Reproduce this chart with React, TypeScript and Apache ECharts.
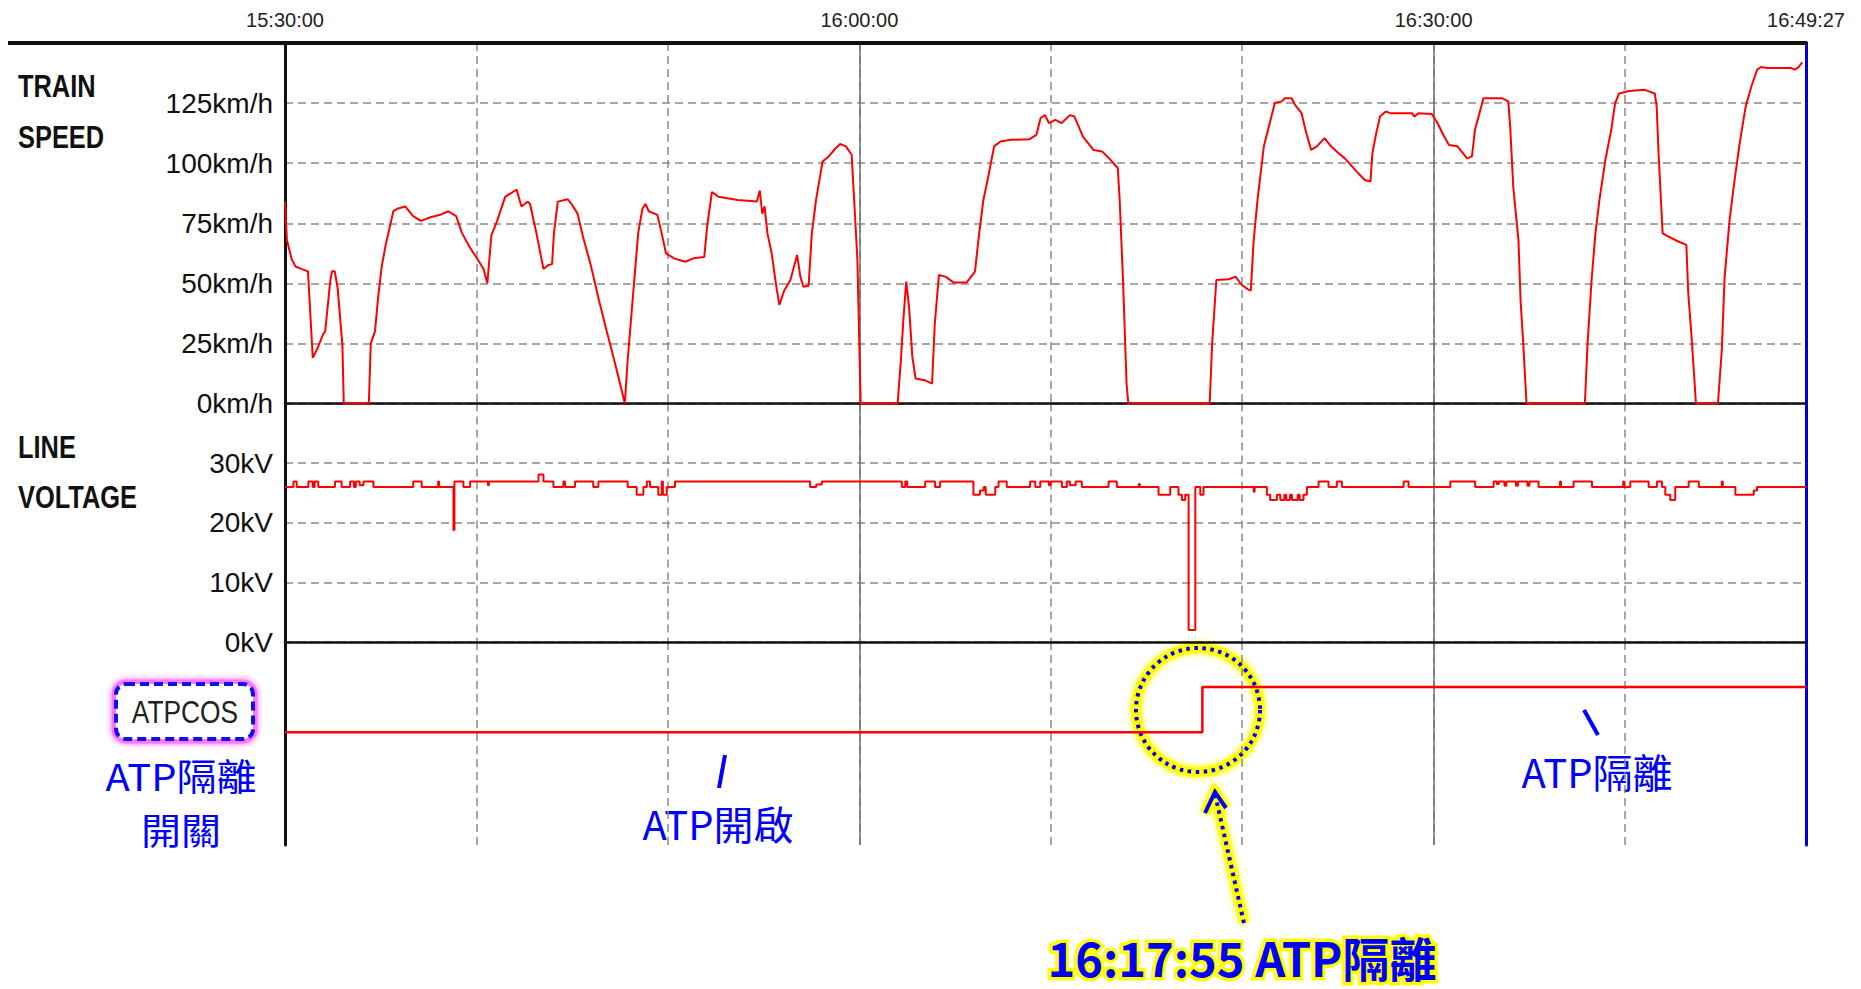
import React, { useEffect, useRef } from 'react';
import * as echarts from 'echarts';

// minutes after 15:30:00
const T_END = 79.45; // 16:49:27
const timeTickValues = [0, 30, 60, T_END];
const timeTickLabels = ['15:30:00', '16:00:00', '16:30:00', '16:49:27'];

const speedMax = 150;
const speedStep = 25;
const voltageMax = 40;
const voltageStep = 10;

// [minute, km/h]
const speedData: [number, number][] = [
  [0, 84], [0.1, 68], [0.35, 60], [0.55, 57], [0.85, 56], [1.2, 55], [1.45, 19], [1.7, 23], [2.0, 29], [2.1, 30],
  [2.35, 50], [2.45, 55], [2.6, 55], [2.75, 48], [3.0, 24], [3.07, 0], [4.38, 0], [4.48, 25], [4.7, 30], [4.85, 43],
  [5.05, 57], [5.26, 66], [5.46, 73], [5.66, 80], [5.87, 81], [6.28, 82], [6.69, 78], [7.1, 76], [7.6, 77.5], [8.1, 78.5],
  [8.53, 80], [8.94, 78], [9.24, 71], [9.65, 65], [10.06, 60], [10.37, 56], [10.57, 50], [10.78, 70], [11.08, 76], [11.5, 86],
  [11.9, 88], [12.1, 89], [12.35, 82], [12.68, 84], [12.8, 83], [13.13, 71], [13.5, 56], [13.74, 57.5], [13.95, 58], [14.05, 71],
  [14.25, 84], [14.76, 85], [14.97, 83], [15.28, 79], [15.58, 69], [15.99, 57], [16.4, 43], [16.81, 30], [17.23, 17], [17.57, 6],
  [17.75, 0], [17.9, 18], [18.23, 50], [18.45, 71], [18.67, 81], [18.83, 83], [19.0, 80], [19.45, 78.5], [19.67, 71], [19.9, 62.5],
  [20.33, 60.4], [20.9, 59], [21.33, 60.4], [21.9, 61], [22.05, 73.6], [22.3, 88], [22.65, 86], [23.65, 84.7], [24.65, 84], [24.8, 88.6],
  [24.93, 79], [25.05, 82], [25.2, 70.8], [25.42, 62.5], [25.64, 50], [25.82, 41], [26.08, 47], [26.4, 51.4], [26.75, 61.8], [26.92, 52.8],
  [27.08, 48.6], [27.35, 49], [27.52, 70.8], [27.74, 84.7], [28.08, 100.7], [28.4, 102.8], [28.74, 106], [29.0, 108], [29.3, 107], [29.6, 103.5],
  [29.73, 84.7], [29.9, 59.7], [30.07, 0], [32.0, 0], [32.17, 18], [32.3, 34.7], [32.45, 50.7], [32.6, 40], [32.77, 19.4], [32.94, 10.4],
  [33.4, 9.7], [33.8, 8.3], [33.94, 33], [34.16, 53.5], [34.5, 52.8], [34.93, 50.3], [35.6, 50.3], [36.04, 54.9], [36.26, 70.8], [36.48, 84.7],
  [36.7, 93], [37.04, 107], [37.37, 109], [37.92, 109.7], [38.9, 110], [39.25, 111.8], [39.47, 118.8], [39.7, 120], [39.9, 116.7], [40.24, 118],
  [40.57, 116.7], [41.0, 120], [41.24, 119.4], [41.68, 111], [42.23, 105.5], [42.68, 104.9], [43.12, 101.4], [43.5, 98], [43.6, 84.7], [43.78, 50],
  [43.96, 8.3], [44.05, 0], [48.3, 0], [48.43, 25], [48.65, 51.4], [49.3, 51.7], [49.65, 52.8], [49.98, 49.3], [50.3, 47.5], [50.45, 47],
  [50.6, 68], [50.8, 84.7], [51.13, 107], [51.44, 116.7], [51.7, 125], [52.06, 125.7], [52.23, 127], [52.58, 127], [52.78, 124], [53.1, 120.8],
  [53.3, 114], [53.6, 105.5], [53.9, 107], [54.3, 110.4], [54.64, 107], [55.05, 104], [55.36, 102], [55.98, 96.5], [56.4, 93], [56.7, 92.4],
  [56.8, 104], [57.0, 112.5], [57.2, 119.4], [57.5, 121.5], [57.73, 120.8], [58.87, 120.8], [59.0, 119.4], [59.2, 120.8], [59.9, 120.5], [60.2, 116.7],
  [60.5, 111.8], [60.8, 107.6], [61.24, 107], [61.55, 104], [61.75, 102], [62.0, 102.8], [62.16, 114], [62.37, 120], [62.6, 127], [63.6, 127],
  [63.9, 125.7], [64.0, 115], [64.16, 90], [64.43, 68], [64.54, 43], [64.68, 25], [64.85, 0], [67.9, 0], [68.04, 25], [68.25, 51.4],
  [68.45, 70.8], [68.66, 84.7], [68.97, 101.4], [69.28, 114], [69.48, 125], [69.69, 129], [70.2, 130], [71.03, 130.5], [71.55, 129], [71.65, 123.6],
  [71.75, 104], [71.96, 70.8], [72.27, 69.4], [72.78, 67.4], [73.2, 66], [73.3, 45.8], [73.46, 29], [73.6, 12.5], [73.7, 0], [74.85, 0],
  [75.05, 22], [75.2, 52.8], [75.46, 76.4], [75.67, 90], [75.98, 108], [76.3, 123.6], [76.6, 132], [76.9, 138.9], [77.1, 140], [77.42, 139.6],
  [78.66, 139.6], [78.87, 138.9], [79.07, 140], [79.25, 142],
];

// [minute, kV] (value holds until next point)
const voltageData: [number, number][] = [
  [0, 26.0], [0.44, 26.9], [0.61, 26.0], [1.22, 26.9], [1.45, 26.0], [1.55, 26.9], [1.74, 26.0], [2.61, 26.9], [2.96, 26.0], [3.4, 26.9],
  [3.6, 26.0], [3.7, 26.9], [3.9, 26.3], [4.1, 26.9], [4.62, 26.0], [6.7, 26.9], [7.14, 26.0], [8.0, 26.9], [8.05, 26.0],
  [8.8, 18.8], [8.85, 26.9], [9.32, 26.0], [9.67, 26.9], [10.6, 26.3], [10.65, 26.9], [13.24, 28.1], [13.5, 26.9], [14.02, 26.0], [14.54, 26.9],
  [14.63, 26.0], [15.15, 26.9], [16.1, 26.0], [16.37, 26.9], [17.9, 26.0], [18.37, 24.7], [18.72, 26.0], [18.9, 26.9], [19.07, 26.0], [19.5, 24.7],
  [19.68, 26.9], [19.74, 24.7], [19.94, 26.0], [20.37, 26.9], [27.43, 26.0], [27.75, 26.4], [28.04, 26.9],
  [32.22, 26.0], [32.4, 26.9], [32.5, 26.0], [33.44, 26.9], [33.96, 26.0], [34.22, 26.9],
  [35.96, 24.7], [36.3, 25.4], [36.5, 26.0], [36.6, 24.7], [37.1, 26.0], [37.27, 26.9], [37.7, 26.0], [38.92, 26.9], [39.19, 26.0], [39.45, 26.9],
  [39.9, 26.3], [40.0, 26.9], [40.58, 26.0], [40.84, 26.9], [41.0, 26.3], [41.3, 26.9], [41.62, 26.0], [43.02, 26.9], [43.45, 26.0], [44.6, 26.5],
  [44.65, 26.0], [45.63, 24.7], [46.24, 26.0], [46.67, 24.7], [46.85, 23.8], [47.02, 24.7], [47.2, 2.0], [47.55, 26.0], [47.81, 24.7], [47.98, 26.0],
  [50.6, 25.2], [50.65, 26.0], [51.29, 24.7], [51.46, 23.8], [51.81, 24.7], [51.99, 23.8], [52.2, 24.7], [52.3, 23.8], [52.5, 24.7], [52.6, 23.8],
  [52.9, 24.7], [53.0, 23.8], [53.2, 24.7], [53.38, 26.0], [53.99, 26.9], [54.51, 26.0], [54.94, 26.9], [55.21, 26.0],
  [58.43, 26.9], [58.69, 26.0], [60.87, 26.9], [62.17, 26.0], [63.13, 26.9], [63.3, 26.5], [63.4, 26.9], [63.7, 26.2], [63.8, 26.9], [64.3, 26.2],
  [64.4, 26.9], [64.9, 26.2], [65.0, 26.9], [65.48, 26.0], [66.6, 26.9], [66.65, 26.0], [67.31, 26.9], [68.27, 26.0], [69.9, 26.9], [69.95, 26.0],
  [70.27, 26.9], [71.23, 26.0], [71.66, 26.9], [71.93, 26.0], [72.1, 24.7], [72.36, 23.8], [72.62, 26.0], [73.32, 26.9], [73.85, 26.0], [75.05, 26.9],
  [75.1, 26.0], [75.76, 24.7], [76.72, 25.4], [76.89, 26.0], [79.45, 26.0],
];

// ATP cut-out switch state: 0 = ATP on, 1 = ATP isolated (16:17:55)
const atpData: [number, number][] = [[0, 0], [47.92, 1], [T_END, 1]];

const SANS = "'Liberation Sans',Arial,sans-serif";
const CJK = "'Noto Sans CJK TC','Noto Sans CJK SC',sans-serif";
const GRID_COLOR = '#8a8a8a';
const BLUE = '#0000ff';

export default function App() {
  const ref = useRef<HTMLDivElement>(null);
  useEffect(() => {
    if (!ref.current) return;
    const chart = echarts.init(ref.current, null, { renderer: 'svg' });

    const dashedX = (gridIndex: number, position: string, extra: any = {}) => ({
      type: 'value', gridIndex, position, min: 0, max: T_END, interval: 10,
      axisTick: { show: false }, axisLabel: { show: false },
      axisLine: { show: false },
      splitLine: { show: true, lineStyle: { color: GRID_COLOR, width: 1.5, type: [8, 5] } },
      ...extra,
    });
    const solidX = (gridIndex: number, position: string) => ({
      type: 'value', gridIndex, position, min: 0, max: T_END, interval: 30,
      axisTick: { show: false }, axisLabel: { show: false }, axisLine: { show: false },
      splitLine: { show: true, lineStyle: { color: '#707070', width: 1.5, type: 'solid' } },
    });
    const rightY = (gridIndex: number, min: number, max: number) => ({
      type: 'value', gridIndex, position: 'right', min, max,
      axisLine: { show: true, onZero: false, lineStyle: { color: '#0000dd', width: 3 } },
      axisLabel: { show: false }, axisTick: { show: false }, splitLine: { show: false },
    });
    const blackLine = (w: number) => ({ show: true, onZero: false, lineStyle: { color: '#111', width: w } });

    const labelStyle = { fontSize: 28, color: '#111', fontFamily: SANS, margin: 12 };
    const title = (text: string, y: number) => ({
      type: 'text', x: 18, y, scaleX: 0.82,
      style: { text, font: `bold 31px ${SANS}`, fill: '#111', verticalAlign: 'middle' },
    });
    const blueText = (text: string, x: number, y: number) => ({
      type: 'text', x, y,
      style: { text, font: `40px ${CJK}`, fill: BLUE, align: 'center', verticalAlign: 'middle' },
    });

    const option: any = {
      animation: false,
      grid: [
        { left: 285, right: 55, top: 43, height: 360.5 },
        { left: 285, right: 55, top: 403.5, height: 238.5 },
        { left: 285, right: 55, top: 642, height: 203 },
      ],
      xAxis: [
        dashedX(0, 'top', {
          axisLine: blackLine(4),
          axisLabel: {
            show: true,
            customValues: timeTickValues,
            formatter: (v: number) => {
              const i = timeTickValues.findIndex((t) => Math.abs(t - v) < 1e-6);
              return i >= 0 ? timeTickLabels[i] : '';
            },
            fontSize: 20, color: '#222', fontFamily: SANS, margin: 13,
          },
        }),
        solidX(0, 'bottom'),
        dashedX(1, 'top', { axisLine: blackLine(2.5) }),
        solidX(1, 'bottom'),
        dashedX(2, 'top', { axisLine: blackLine(2.5) }),
        solidX(2, 'bottom'),
      ],
      yAxis: [
        {
          type: 'value', gridIndex: 0, position: 'left', min: 0, max: speedMax, interval: speedStep,
          axisLine: blackLine(3), axisTick: { show: false },
          axisLabel: { ...labelStyle, formatter: '{value}km/h', showMaxLabel: false },
          splitLine: { show: true, lineStyle: { color: GRID_COLOR, width: 1.5, type: [8, 5] } },
        },
        rightY(0, 0, speedMax),
        {
          type: 'value', gridIndex: 1, position: 'left', min: 0, max: voltageMax, interval: voltageStep,
          axisLine: blackLine(3), axisTick: { show: false },
          axisLabel: { ...labelStyle, formatter: '{value}kV', showMaxLabel: false },
          splitLine: { show: true, lineStyle: { color: GRID_COLOR, width: 1.5, type: [8, 5] } },
        },
        rightY(1, 0, voltageMax),
        {
          type: 'value', gridIndex: 2, position: 'left', min: -2.5, max: 2,
          axisLine: blackLine(3), axisTick: { show: false }, axisLabel: { show: false }, splitLine: { show: false },
        },
        rightY(2, -2.5, 2),
      ],
      series: [
        {
          type: 'line', name: 'TRAIN SPEED', xAxisIndex: 0, yAxisIndex: 0, data: speedData,
          showSymbol: false, clip: false, lineStyle: { color: '#ff0000', width: 2 },
        },
        {
          type: 'line', name: 'LINE VOLTAGE', xAxisIndex: 2, yAxisIndex: 2, data: voltageData, step: 'end',
          showSymbol: false, clip: false, lineStyle: { color: '#ff0000', width: 2 },
        },
        {
          type: 'line', name: 'ATPCOS', xAxisIndex: 4, yAxisIndex: 4, data: atpData, step: 'end',
          showSymbol: false, clip: false, lineStyle: { color: '#ff0000', width: 2.5 },
        },
      ],
      graphic: [
        { type: 'line', shape: { x1: 8, y1: 43, x2: 286, y2: 43 }, style: { stroke: '#111', lineWidth: 4 } },
        title('TRAIN', 86),
        title('SPEED', 137),
        title('LINE', 447),
        title('VOLTAGE', 497),
        {
          type: 'rect', shape: { x: 116, y: 684, width: 137, height: 55, r: 10 },
          style: { fill: 'none', stroke: '#ff77ff', lineWidth: 9, shadowBlur: 6, shadowColor: '#ff66ff' },
        },
        {
          type: 'rect', shape: { x: 116, y: 684, width: 137, height: 55, r: 10 },
          style: { fill: '#fff', stroke: '#1010ee', lineWidth: 4, lineDash: [9, 5] },
        },
        {
          type: 'text', x: 185, y: 712, scaleX: 0.85,
          style: { text: 'ATPCOS', font: `31px ${SANS}`, fill: '#222', align: 'center', verticalAlign: 'middle' },
        },
        {
          type: 'text', x: 181, y: 802, scaleX: 1.08,
          style: { text: 'ATP隔離\n開關', font: `37px ${CJK}`, fill: BLUE, align: 'center', verticalAlign: 'middle', lineHeight: 54 },
        },
        { type: 'line', shape: { x1: 725, y1: 755, x2: 719, y2: 788 }, style: { stroke: BLUE, lineWidth: 4 } },
        blueText('ATP開啟', 718, 823),
        { type: 'line', shape: { x1: 1584, y1: 710, x2: 1598, y2: 735 }, style: { stroke: BLUE, lineWidth: 4 } },
        blueText('ATP隔離', 1597, 771),
        // highlight circle
        { type: 'circle', shape: { cx: 1198, cy: 710, r: 62 }, style: { fill: 'none', stroke: '#ffff00', lineWidth: 10, shadowBlur: 6, shadowColor: '#ffff00' } },
        { type: 'circle', shape: { cx: 1198, cy: 710, r: 62 }, style: { fill: 'none', stroke: BLUE, lineWidth: 4, lineDash: [3.5, 4.5] } },
        // arrow
        { type: 'line', shape: { x1: 1244, y1: 923, x2: 1215, y2: 794 }, style: { stroke: '#ffff00', lineWidth: 10, shadowBlur: 6, shadowColor: '#ffff00' } },
        { type: 'polyline', shape: { points: [[1205, 813], [1215, 792], [1226, 808]] }, style: { fill: 'none', stroke: '#ffff00', lineWidth: 10, shadowBlur: 6, shadowColor: '#ffff00' } },
        { type: 'line', shape: { x1: 1244, y1: 923, x2: 1215, y2: 794 }, style: { stroke: BLUE, lineWidth: 4, lineDash: [3.5, 4.5] } },
        { type: 'polyline', shape: { points: [[1205, 813], [1215, 792], [1226, 808]] }, style: { fill: 'none', stroke: BLUE, lineWidth: 4 } },
        // big label
        {
          type: 'text', x: 1242, y: 956,
          style: { text: '16:17:55 ATP隔離', font: `bold 47px ${CJK}`, fill: '#ffff00', stroke: '#ffff00', lineWidth: 7, align: 'center', verticalAlign: 'middle', shadowBlur: 5, shadowColor: '#ffff00' },
        },
        {
          type: 'text', x: 1242, y: 956,
          style: { text: '16:17:55 ATP隔離', font: `bold 47px ${CJK}`, fill: '#0000ff', align: 'center', verticalAlign: 'middle' },
        },
      ],
    };
    chart.setOption(option);
    return () => chart.dispose();
  }, []);
  return <div ref={ref} style={{ position: 'absolute', left: 0, top: 0, width: 1861, height: 989, background: '#fff' }} />;
}
